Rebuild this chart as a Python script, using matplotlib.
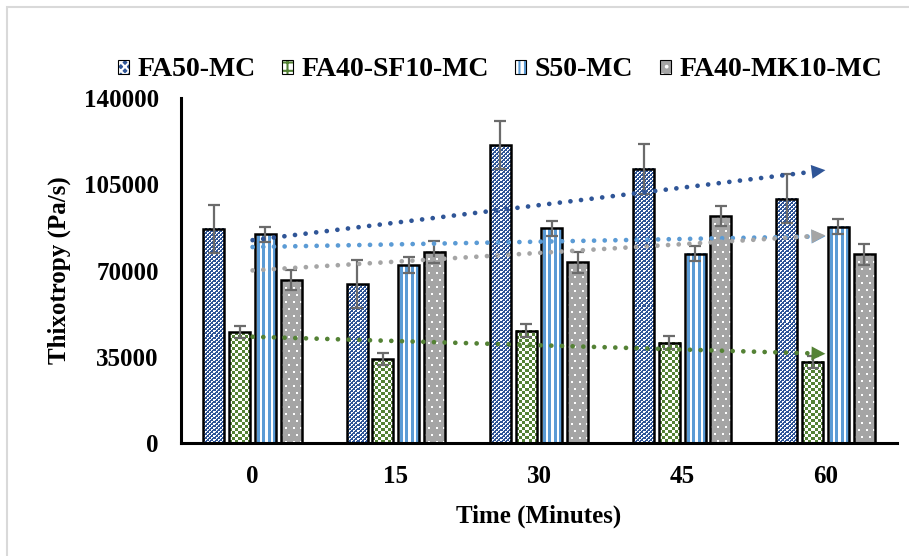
import numpy as np
import matplotlib
matplotlib.use("Agg")
import matplotlib.pyplot as plt
from matplotlib.patches import Patch, Rectangle
from matplotlib.colors import to_rgb

# data
times = ["0", "15", "30", "45", "60"]
series = ["FA50-MC", "FA40-SF10-MC", "S50-MC", "FA40-MK10-MC"]
fa50 = [87000, 64400, 120900, 111200, 99100]
fa50_err = [9700, 9800, 9700, 10000, 9900]
sf10 = [45000, 34000, 45600, 40700, 33000]
sf10_err = [2500, 2400, 2700, 2600, 2500]
s50 = [84700, 72100, 87100, 76800, 87800]
s50_err = [3100, 3200, 3100, 3100, 3000]
mk10 = [66100, 77600, 73300, 92100, 76600]
mk10_err = [4000, 4500, 4300, 4200, 4300]

values = [fa50, sf10, s50, mk10]
errors = [fa50_err, sf10_err, s50_err, mk10_err]
colors = ["#2F5597", "#548235", "#5B9BD5", "#A5A5A5"]

plt.rcParams["font.family"] = ["Liberation Serif", "DejaVu Serif"]
plt.rcParams["font.weight"] = "bold"
plt.rcParams["hatch.linewidth"] = 1.5

fig = plt.figure(figsize=(9.09, 5.56), dpi=100)
ax = fig.add_axes([181 / 909, 113 / 556, (897 - 181) / 909, 345 / 556])
ax.set_xlim(-0.5, 4.5)
ax.set_ylim(0, 140000)

x = np.arange(len(times))
pitch = 0.18
width = 0.147


# pixel patterns: True -> pattern colour, False -> background colour
def fine_check(r, c):
    return ((r // 2 + c // 2) % 2 == 0) & ((r % 2 == 0) | (c % 2 == 0))


def big_check(r, c):
    return (r // 3 + c // 3) % 2 == 0


def stripes(r, c):
    return (c % 5 < 2) & (r >= 0)


def dots(r, c):
    shift = 3 * ((r // 7) % 2)
    return (r % 7 < 2) & ((c + shift) % 7 < 2)


# (pattern, pattern colour, background colour) for each series
textures = [
    (fine_check, "white", colors[0]),
    (big_check, colors[1], "white"),
    (stripes, "white", colors[2]),
    (dots, "white", colors[3]),
]


def texture(bar, func, fg, bg):
    x0, y0 = bar.get_x(), bar.get_y()
    w, h = bar.get_width(), bar.get_height()
    p0 = ax.transData.transform((x0, y0))
    p1 = ax.transData.transform((x0 + w, y0 + h))
    nx = max(1, int(round(p1[0] - p0[0])))
    ny = max(1, int(round(p1[1] - p0[1])))
    r, c = np.indices((ny, nx))
    mask = func(r, c)
    img = np.where(mask[..., None], np.array(to_rgb(fg)), np.array(to_rgb(bg)))
    ax.imshow(img, extent=(x0, x0 + w, y0, y0 + h), origin="upper",
              interpolation="nearest", aspect="auto", zorder=2)


for i in range(4):
    pos = x + (i - 1.5) * pitch
    func, fg, bg = textures[i]
    bars = ax.bar(pos, values[i], width, color=bg, lw=0, zorder=1)
    for b in bars:
        texture(b, func, fg, bg)
    ax.bar(pos, values[i], width, fill=False, edgecolor="black", lw=1.8, zorder=3)
    ax.errorbar(pos, values[i], yerr=errors[i], fmt="none", ecolor="#6B6B6B",
                elinewidth=1.6, capsize=4.3, capthick=1.6, zorder=4)

ax.set_xlim(-0.5, 4.5)
ax.set_ylim(0, 140000)

# linear trendlines with arrow heads
for i in [0, 1, 2, 3]:
    k, c = np.polyfit(x, values[i], 1)
    xe = 3.9
    ax.plot([0, xe], [c, k * xe + c], color=colors[i], lw=3.4,
            linestyle=(0, (0.01, 2.25)), dash_capstyle="round", zorder=5)
    ax.annotate("", xy=(4, 4 * k + c), xytext=(3.85, 3.85 * k + c),
                arrowprops=dict(arrowstyle="-|>,head_length=1.0,head_width=0.5",
                                color=colors[i], lw=0, shrinkA=0, shrinkB=0,
                                mutation_scale=10),
                zorder=6)

ax.set_xticks(x)
ax.set_xticklabels(times)
ax.set_yticks(np.arange(0, 140001, 35000))
ax.tick_params(length=0, labelsize=18, pad=16)
for lab in ax.get_xticklabels() + ax.get_yticklabels():
    lab.set_fontweight("bold")

for s in ["top", "right"]:
    ax.spines[s].set_visible(False)
for s in ["left", "bottom"]:
    ax.spines[s].set_linewidth(2.2)
    ax.spines[s].set_color("black")

ax.set_xlabel("Time (Minutes)", fontsize=18, fontweight="bold", labelpad=12)
ax.set_ylabel("Thixotropy (Pa/s)", fontsize=18, fontweight="bold", labelpad=9)

handles = [
    (Patch(facecolor=colors[0], edgecolor="white", hatch="xxxx", lw=0),
     Patch(fill=False, edgecolor="black", lw=0.8)),
    (Patch(facecolor="white", edgecolor=colors[1], hatch="++", lw=0),
     Patch(fill=False, edgecolor="black", lw=0.8)),
    (Patch(facecolor="white", edgecolor=colors[2], hatch="|||", lw=0),
     Patch(fill=False, edgecolor="black", lw=0.8)),
    (Patch(facecolor=colors[3], edgecolor="white", hatch="..", lw=0),
     Patch(fill=False, edgecolor="black", lw=0.8)),
]
fig.legend(handles, series, loc="center", bbox_to_anchor=(500 / 909, 1 - 70 / 556),
           ncol=4, frameon=False, prop={"size": 20, "weight": "bold"},
           handlelength=0.4, handleheight=0.4, handletextpad=0.3,
           columnspacing=0.95)

fig.add_artist(Rectangle((7 / 909, -0.05), 1.1, 1 - 7 / 556 + 0.05, fill=False,
                         ec="#D9D9D9", lw=1.5, transform=fig.transFigure))

fig.savefig("out.png", dpi=100)
